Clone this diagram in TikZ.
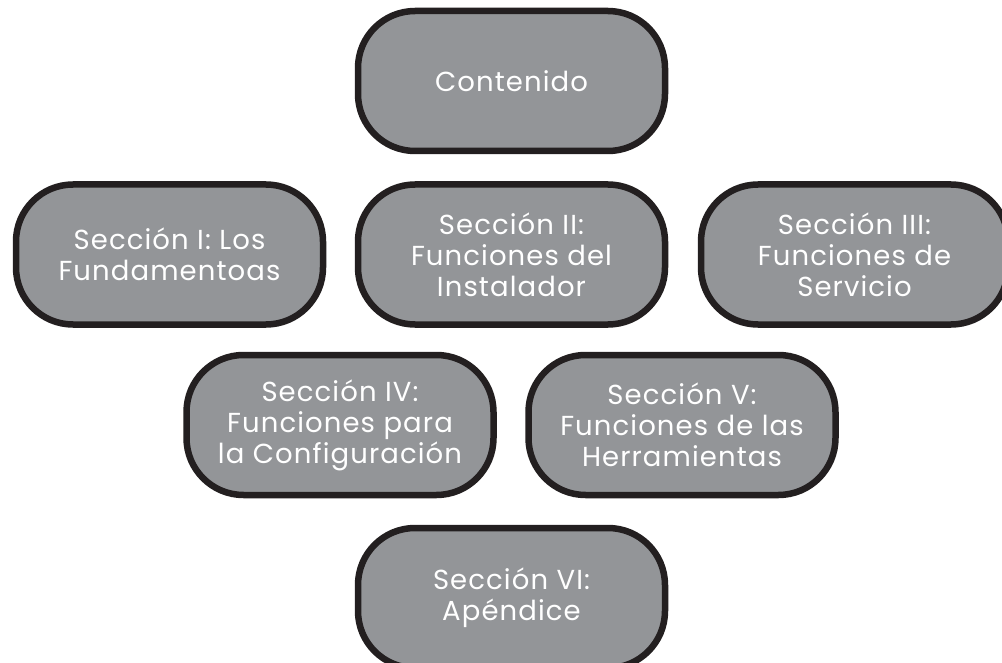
\documentclass[tikz,border=0pt]{standalone}
\usepackage{fontspec}
\setmainfont{Poppins}[LetterSpace=4]
\definecolor{boxfill}{HTML}{939598}
\definecolor{boxline}{HTML}{231F20}
\tikzset{
  secbox/.style={draw=boxline, fill=boxfill, line width=6.5pt, rounded corners=57pt,
    minimum width=307pt, minimum height=140pt, inner sep=0pt, align=center,
    text=white, font=\fontsize{27.5}{31}\selectfont}
}
\begin{document}
\begin{tikzpicture}[x=1pt,y=-1pt]
\clip (0,0) rectangle (1002,663);
\fill[white] (0,0) rectangle (1002,663);
\node[secbox] (c) at (511.5,81) {Contenido};
\node[secbox] (s1) at (169.5,254.5) {Sección I: Los\\Fundamentoas};
\node[secbox] (s2) at (511.5,254.5) {Sección II:\\Funciones del\\Instalador};
\node[secbox] (s3) at (854.5,254.5) {Sección III:\\Funciones de\\Servicio};
\node[secbox] (s4) at (340,425) {Sección IV:\\Funciones para\\la Configuración};
\node[secbox] (s5) at (682,425) {Sección V:\\Funciones de las\\Herramientas};
\node[secbox] (s6) at (511.5,598) {Sección VI:\\Apéndice};
\end{tikzpicture}
\end{document}
